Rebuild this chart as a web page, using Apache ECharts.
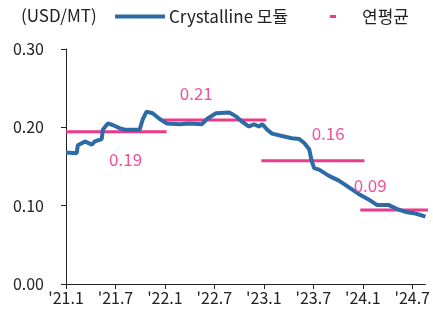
<!DOCTYPE html>
<html>
<head>
<meta charset="utf-8">
<script src="https://cdn.jsdelivr.net/npm/echarts@6/dist/echarts.min.js"></script>
<style>
  html, body { margin: 0; padding: 0; background: #fff; }
  #chart { width: 433px; height: 320px; }
</style>
</head>
<body>
<div id="chart"></div>
<script>
// Crystalline module price (USD/MT), sampled dates
const priceDates = [
  '2021-01-01','2021-02-10','2021-02-14','2021-03-10','2021-04-05','2021-04-16',
  '2021-05-11','2021-05-15','2021-06-03','2021-06-21','2021-07-16','2021-08-05',
  '2021-09-29','2021-10-10','2021-10-24','2021-11-16','2021-12-11','2022-01-07',
  '2022-02-24','2022-03-30','2022-05-16','2022-06-05','2022-07-07','2022-08-25',
  '2022-09-20','2022-10-09','2022-11-07','2022-11-25','2022-12-13','2022-12-25',
  '2023-01-13','2023-02-01','2023-03-07','2023-04-13','2023-05-10','2023-05-28',
  '2023-06-16','2023-06-25','2023-07-04','2023-07-22','2023-08-28','2023-10-04',
  '2023-11-04','2023-12-16','2024-01-22','2024-02-22','2024-04-04','2024-05-04',
  '2024-06-07','2024-07-13','2024-08-19'
];
const priceValues = [
  0.168,0.167,0.177,0.182,0.178,0.182,
  0.185,0.197,0.205,0.203,0.199,0.197,
  0.197,0.210,0.220,0.218,0.211,0.205,
  0.204,0.205,0.204,0.211,0.218,0.219,
  0.214,0.208,0.201,0.204,0.201,0.204,
  0.197,0.192,0.189,0.186,0.185,0.180,
  0.172,0.157,0.148,0.146,0.138,0.132,
  0.125,0.115,0.108,0.101,0.101,0.096,
  0.092,0.090,0.086
];

// Annual averages and the span each bar covers
const avgYears = ['2021', '2022', '2023', '2024'];
const avgValues = [0.1945, 0.2094, 0.1574, 0.0945];
const avgStart = ['2021-01-01', '2021-12-25', '2022-12-22', '2023-12-22'];
const avgEnd   = ['2022-01-07', '2023-01-10', '2024-01-07', '2024-09-06'];

// X-axis tick labels, every six months
const tickLabels = ["'21.1", "'21.7", "'22.1", "'22.7", "'23.1", "'23.7", "'24.1", "'24.7"];

// label placement for the average values (month along axis, vertical offset)
const avgLabelPlace = [
  { at: '2021-08-08', dy: 28 },
  { at: '2022-04-25', dy: -26 },
  { at: '2023-08-25', dy: -27 },
  { at: '2024-01-28', dy: -24 }
];

// months elapsed since Jan 2021
function toMonth(d) {
  const [y, m, day] = d.split('-').map(Number);
  return (y - 2021) * 12 + (m - 1) + (day - 1) / 30;
}

const FONT = "'Noto Sans CJK KR', 'Noto Sans', sans-serif";
const BLUE = '#2d6aa6';
const PINK = '#ea3b8b';
const PINK_TEXT = '#f0509c';
const AXIS_MAX = toMonth('2024-08-19');

const avgSeries = avgValues.map((v, i) => ({
  name: '연평균',
  type: 'line',
  symbol: 'none',
  clip: false,
  z: 3,
  lineStyle: { color: PINK, width: 3 },
  itemStyle: { color: PINK },
  data: [[toMonth(avgStart[i]), v], [toMonth(avgEnd[i]), v]],
  markPoint: {
    symbol: 'circle',
    symbolSize: 0,
    silent: true,
    data: [{
      coord: [toMonth(avgLabelPlace[i].at), v],
      label: {
        show: true,
        formatter: v.toFixed(2),
        color: PINK_TEXT,
        fontFamily: FONT,
        fontSize: 17,
        offset: [0, avgLabelPlace[i].dy]
      }
    }]
  }
}));

const chart = echarts.init(document.getElementById('chart'), null, { renderer: 'canvas' });
chart.setOption({
  animation: false,
  textStyle: { fontFamily: FONT },
  grid: { left: 66, right: 6, top: 49, bottom: 36, containLabel: false },
  graphic: [{
    type: 'text',
    left: 21,
    top: 7,
    style: { text: '(USD/MT)', font: '17px ' + FONT, fill: '#222' }
  }],
  legend: [
    {
      left: 115, top: 8, padding: 0,
      itemWidth: 50, itemHeight: 4,
      icon: 'rect',
      data: ['Crystalline 모듈'],
      textStyle: { fontFamily: FONT, fontSize: 17, color: '#222', padding: [0, 0, 0, -1] }
    },
    {
      left: 330, top: 8, padding: 0,
      itemWidth: 6, itemHeight: 3,
      icon: 'rect',
      data: ['연평균'],
      textStyle: { fontFamily: FONT, fontSize: 17, color: '#222', padding: [0, 0, 0, 21] }
    }
  ],
  xAxis: {
    type: 'value',
    min: 0,
    max: AXIS_MAX,
    interval: 6,
    splitLine: { show: false },
    axisLine: { lineStyle: { color: '#222', width: 1 } },
    axisTick: { show: true, length: 5, lineStyle: { color: '#222' },
      customValues: tickLabels.map((_, i) => i * 6) },
    axisLabel: {
      color: '#222', fontSize: 16, fontFamily: FONT, margin: 6,
      customValues: tickLabels.map((_, i) => i * 6),
      formatter: v => tickLabels[Math.round(v / 6)] || ''
    }
  },
  yAxis: {
    type: 'value',
    min: 0,
    max: 0.3,
    interval: 0.1,
    splitLine: { show: false },
    axisLine: { show: true, lineStyle: { color: '#222', width: 1 } },
    axisTick: { show: true, length: 5, lineStyle: { color: '#222' } },
    axisLabel: {
      color: '#222', fontSize: 16, fontFamily: FONT, margin: 22,
      formatter: v => v.toFixed(2)
    }
  },
  series: [
    {
      name: 'Crystalline 모듈',
      type: 'line',
      symbol: 'none',
      z: 4,
      lineStyle: { color: BLUE, width: 4 },
      itemStyle: { color: BLUE },
      data: priceDates.map((d, i) => [toMonth(d), priceValues[i]])
    },
    ...avgSeries
  ]
});
</script>
</body>
</html>
